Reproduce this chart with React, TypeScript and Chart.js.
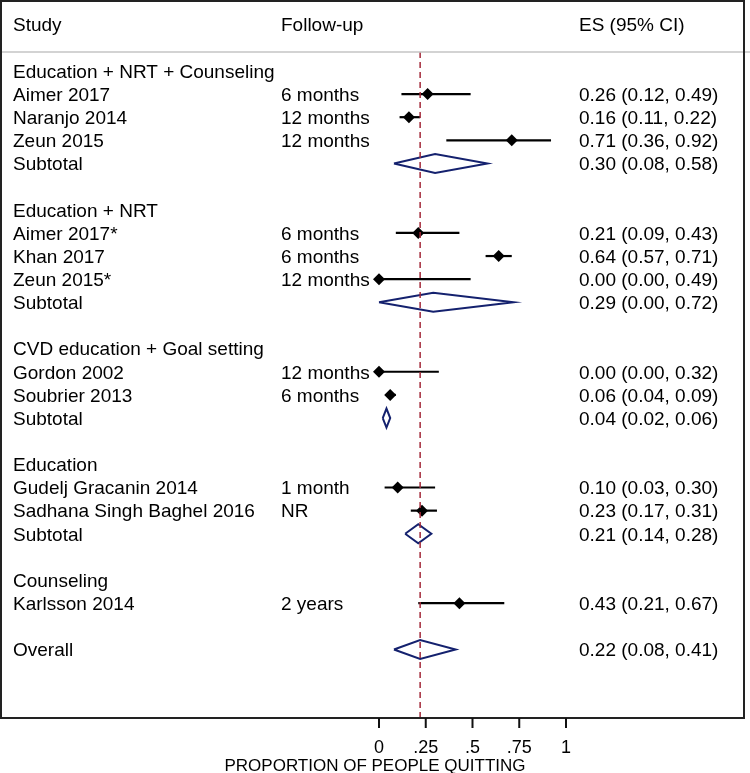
import React, { useEffect, useRef } from "react";
import { Chart, registerables } from "chart.js";

Chart.register(...registerables);

// ---- Data ----
const groupLabels = [
  "Education + NRT + Counseling",
  "Education + NRT",
  "CVD education + Goal setting",
  "Education",
  "Counseling",
];
const studyLabels = [
  "Aimer 2017",
  "Naranjo 2014",
  "Zeun 2015",
  "Aimer 2017*",
  "Khan 2017",
  "Zeun 2015*",
  "Gordon 2002",
  "Soubrier 2013",
  "Gudelj Gracanin 2014",
  "Sadhana Singh Baghel 2016",
  "Karlsson 2014",
];
const studyGroup = [0, 0, 0, 1, 1, 1, 2, 2, 3, 3, 4];
const followUp = [
  "6 months",
  "12 months",
  "12 months",
  "6 months",
  "6 months",
  "12 months",
  "12 months",
  "6 months",
  "1 month",
  "NR",
  "2 years",
];
const studyES = [0.26, 0.16, 0.71, 0.21, 0.64, 0.0, 0.0, 0.06, 0.1, 0.23, 0.43];
const studyLo = [0.12, 0.11, 0.36, 0.09, 0.57, 0.0, 0.0, 0.04, 0.03, 0.17, 0.21];
const studyHi = [0.49, 0.22, 0.92, 0.43, 0.71, 0.49, 0.32, 0.09, 0.3, 0.31, 0.67];
const subtotalES: (number | null)[] = [0.3, 0.29, 0.04, 0.21, null];
const subtotalLo: (number | null)[] = [0.08, 0.0, 0.02, 0.14, null];
const subtotalHi: (number | null)[] = [0.58, 0.72, 0.06, 0.28, null];
const overallES = 0.22;
const overallLo = 0.08;
const overallHi = 0.41;
const xTickValues = [0, 0.25, 0.5, 0.75, 1];
const xTickLabels = ["0", ".25", ".5", ".75", "1"];
const headerLabels = ["Study", "Follow-up", "ES (95% CI)"];
const axisTitle = "PROPORTION OF PEOPLE QUITTING";

const fmt = (v: number) => v.toFixed(2);
const esText = (e: number, l: number, h: number) => `${fmt(e)} (${fmt(l)}, ${fmt(h)})`;

type Row = {
  row: number;
  kind: "group" | "study" | "subtotal" | "overall";
  label: string;
  follow?: string;
  es?: number;
  lo?: number;
  hi?: number;
};

function buildRows(): Row[] {
  const rows: Row[] = [];
  let r = 0;
  groupLabels.forEach((g, gi) => {
    rows.push({ row: r++, kind: "group", label: g });
    studyLabels.forEach((s, si) => {
      if (studyGroup[si] !== gi) return;
      rows.push({
        row: r++,
        kind: "study",
        label: s,
        follow: followUp[si],
        es: studyES[si],
        lo: studyLo[si],
        hi: studyHi[si],
      });
    });
    if (subtotalES[gi] !== null) {
      rows.push({
        row: r++,
        kind: "subtotal",
        label: "Subtotal",
        es: subtotalES[gi] as number,
        lo: subtotalLo[gi] as number,
        hi: subtotalHi[gi] as number,
      });
    }
    r++; // blank row
  });
  rows.push({ row: r, kind: "overall", label: "Overall", es: overallES, lo: overallLo, hi: overallHi });
  return rows;
}

const HEADER_ROW = -2;
const SEP_ROW = -0.82;
const Y_MIN = -3.02;
const Y_MAX = 27.96;
const X_MIN = -2.0214;
const X_MAX = 1.9519;
const DIAMOND_H = 0.41;

const FONT = '"Liberation Sans", Arial, sans-serif';

export default function App() {
  const ref = useRef<HTMLCanvasElement | null>(null);

  useEffect(() => {
    if (!ref.current) return;
    const rows = buildRows();
    const datasets: any[] = [];

    datasets.push({
      data: [
        { x: overallES, y: SEP_ROW },
        { x: overallES, y: Y_MAX },
      ],
      showLine: true,
      borderColor: "#a3293a",
      borderWidth: 1.5,
      borderDash: [6, 4],
      pointRadius: 0,
    });

    rows.forEach((r) => {
      if (r.kind === "study") {
        datasets.push({
          data: [
            { x: r.lo, y: r.row },
            { x: r.hi, y: r.row },
          ],
          showLine: true,
          borderColor: "#000",
          borderWidth: 2.2,
          pointRadius: 0,
        });
      } else if (r.kind === "subtotal" || r.kind === "overall") {
        datasets.push({
          data: [
            { x: r.lo, y: r.row },
            { x: r.es, y: r.row - DIAMOND_H },
            { x: r.hi, y: r.row },
            { x: r.es, y: r.row + DIAMOND_H },
            { x: r.lo, y: r.row },
          ],
          showLine: true,
          borderColor: "#14216e",
          borderWidth: 2,
          pointRadius: 0,
          tension: 0,
        });
      }
    });

    datasets.push({
      data: rows.filter((r) => r.kind === "study").map((r) => ({ x: r.es, y: r.row })),
      showLine: false,
      pointStyle: "rectRot",
      pointRadius: 6,
      backgroundColor: "#000",
      borderColor: "#000",
      borderWidth: 0,
    });

    const textPlugin = {
      id: "forestText",
      afterDraw(chart: any) {
        const ctx = chart.ctx as CanvasRenderingContext2D;
        const ca = chart.chartArea;
        const xs = chart.scales.x;
        const ys = chart.scales.y;
        ctx.save();
        // header separator
        const sepY = ys.getPixelForValue(SEP_ROW);
        ctx.strokeStyle = "#c4c4c4";
        ctx.lineWidth = 1.5;
        ctx.beginPath();
        ctx.moveTo(0, sepY);
        ctx.lineTo(chart.width, sepY);
        ctx.stroke();
        // frame
        ctx.strokeStyle = "#222";
        ctx.lineWidth = 2;
        ctx.strokeRect(ca.left, ca.top, ca.right - ca.left, ca.bottom - ca.top);

        const colStudy = 13;
        const colFollow = 281;
        const colES = 579;
        ctx.fillStyle = "#000";
        ctx.font = `19px ${FONT}`;
        ctx.textBaseline = "alphabetic";
        ctx.textAlign = "left";
        const off = 6.8;
        const hy = ys.getPixelForValue(HEADER_ROW) + off;
        ctx.fillText(headerLabels[0], colStudy, hy);
        ctx.fillText(headerLabels[1], colFollow, hy);
        ctx.fillText(headerLabels[2], colES, hy);
        rows.forEach((r) => {
          const y = ys.getPixelForValue(r.row) + off;
          ctx.fillText(r.label, colStudy, y);
          if (r.follow) ctx.fillText(r.follow, colFollow, y);
          if (r.es !== undefined) ctx.fillText(esText(r.es, r.lo as number, r.hi as number), colES, y);
        });

        // x axis ticks
        ctx.strokeStyle = "#111";
        ctx.lineWidth = 2;
        ctx.font = `18px ${FONT}`;
        ctx.textAlign = "center";
        xTickValues.forEach((v, i) => {
          const x = xs.getPixelForValue(v);
          ctx.beginPath();
          ctx.moveTo(x, ca.bottom);
          ctx.lineTo(x, ca.bottom + 10);
          ctx.stroke();
          ctx.fillText(xTickLabels[i], x, ca.bottom + 35);
        });
        ctx.font = `17px ${FONT}`;
        ctx.fillText(axisTitle, chart.width / 2, ca.bottom + 53);
        ctx.restore();
      },
    };

    const chart = new Chart(ref.current, {
      type: "scatter",
      data: { datasets },
      options: {
        animation: false,
        responsive: false,
        devicePixelRatio: 1,
        layout: { autoPadding: false, padding: { left: 1, top: 1, right: 6, bottom: 55 } },
        plugins: { legend: { display: false }, tooltip: { enabled: false } },
        scales: {
          x: { type: "linear", min: X_MIN, max: X_MAX, display: false },
          y: { type: "linear", min: Y_MIN, max: Y_MAX, reverse: true, display: false },
        },
      },
      plugins: [textPlugin],
    });
    return () => chart.destroy();
  }, []);

  return (
    <div style={{ position: "absolute", left: 0, top: 0, width: 750, height: 773, background: "#fff" }}>
      <canvas ref={ref} width={750} height={773} />
    </div>
  );
}
